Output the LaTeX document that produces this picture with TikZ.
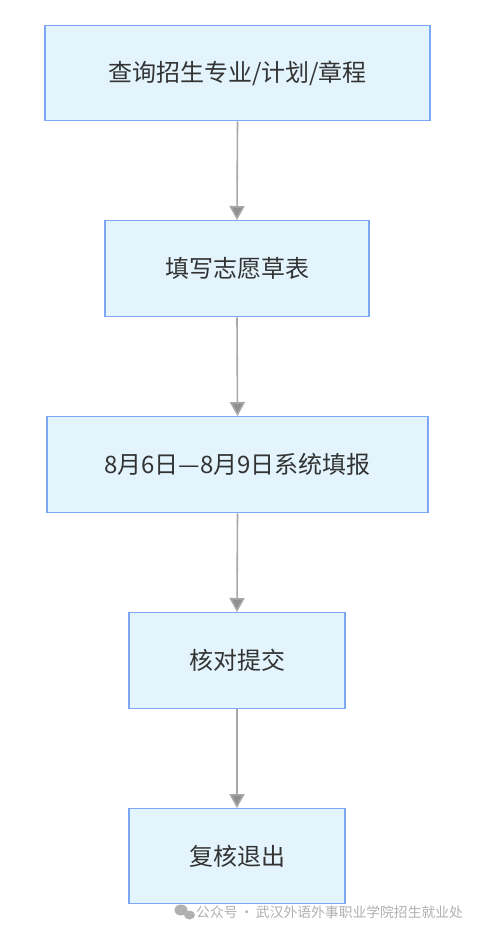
\documentclass[tikz,border=0pt]{standalone}
\usepackage{fontspec}
\setmainfont{Noto Sans CJK SC}
\usetikzlibrary{arrows.meta}
\definecolor{boxfill}{HTML}{E3F4FD}
\definecolor{boxline}{HTML}{7BA7F5}
\definecolor{txt}{HTML}{333333}
\definecolor{arr}{HTML}{A8A8A8}
\definecolor{wm}{HTML}{B0B0B0}
\tikzset{
  stepbox/.style={draw=boxline, line width=1.4pt, fill=boxfill, text=txt, font=\fontsize{24}{28}\selectfont, anchor=north, inner sep=0pt},
  flow/.style={draw=arr, line width=1.6pt, -{Triangle[length=14pt,width=15pt,fill=arr!85!black]}},
}
\begin{document}
\begin{tikzpicture}[x=1pt,y=-1pt]
\useasboundingbox (0,0) rectangle (480,930);
\fill[white] (0,0) rectangle (480,930);
\node[stepbox, minimum width=385pt, minimum height=95pt] (b1) at (237.5,25) {查询招生专业/计划/章程};
\node[stepbox, minimum width=264pt, minimum height=96pt] (b2) at (237,220) {填写志愿草表};
\node[stepbox, minimum width=381pt, minimum height=96pt] (b3) at (237.5,416) {8月6日—8月9日系统填报};
\node[stepbox, minimum width=216pt, minimum height=96pt] (b4) at (237,612) {核对提交};
\node[stepbox, minimum width=216pt, minimum height=95pt] (b5) at (237,808) {复核退出};
\draw[flow] (b1.south) -- (b2.north);
\draw[flow] (b2.south) -- (b3.north);
\draw[flow] (b3.south) -- (b4.north);
\draw[flow] (b4.south) -- (b5.north);
% watermark
\fill[wm] (181,910) ellipse (6.5pt and 5.5pt);
\fill[wm] (189.5,915) ellipse (5.5pt and 4.5pt);
\node[anchor=west, text=wm, font=\fontsize{13.8}{16}\selectfont, inner sep=0pt] (wmk) at (196,912) {公众号\,·\,武汉外语外事职业学院招生就业处};
\end{tikzpicture}
\end{document}
